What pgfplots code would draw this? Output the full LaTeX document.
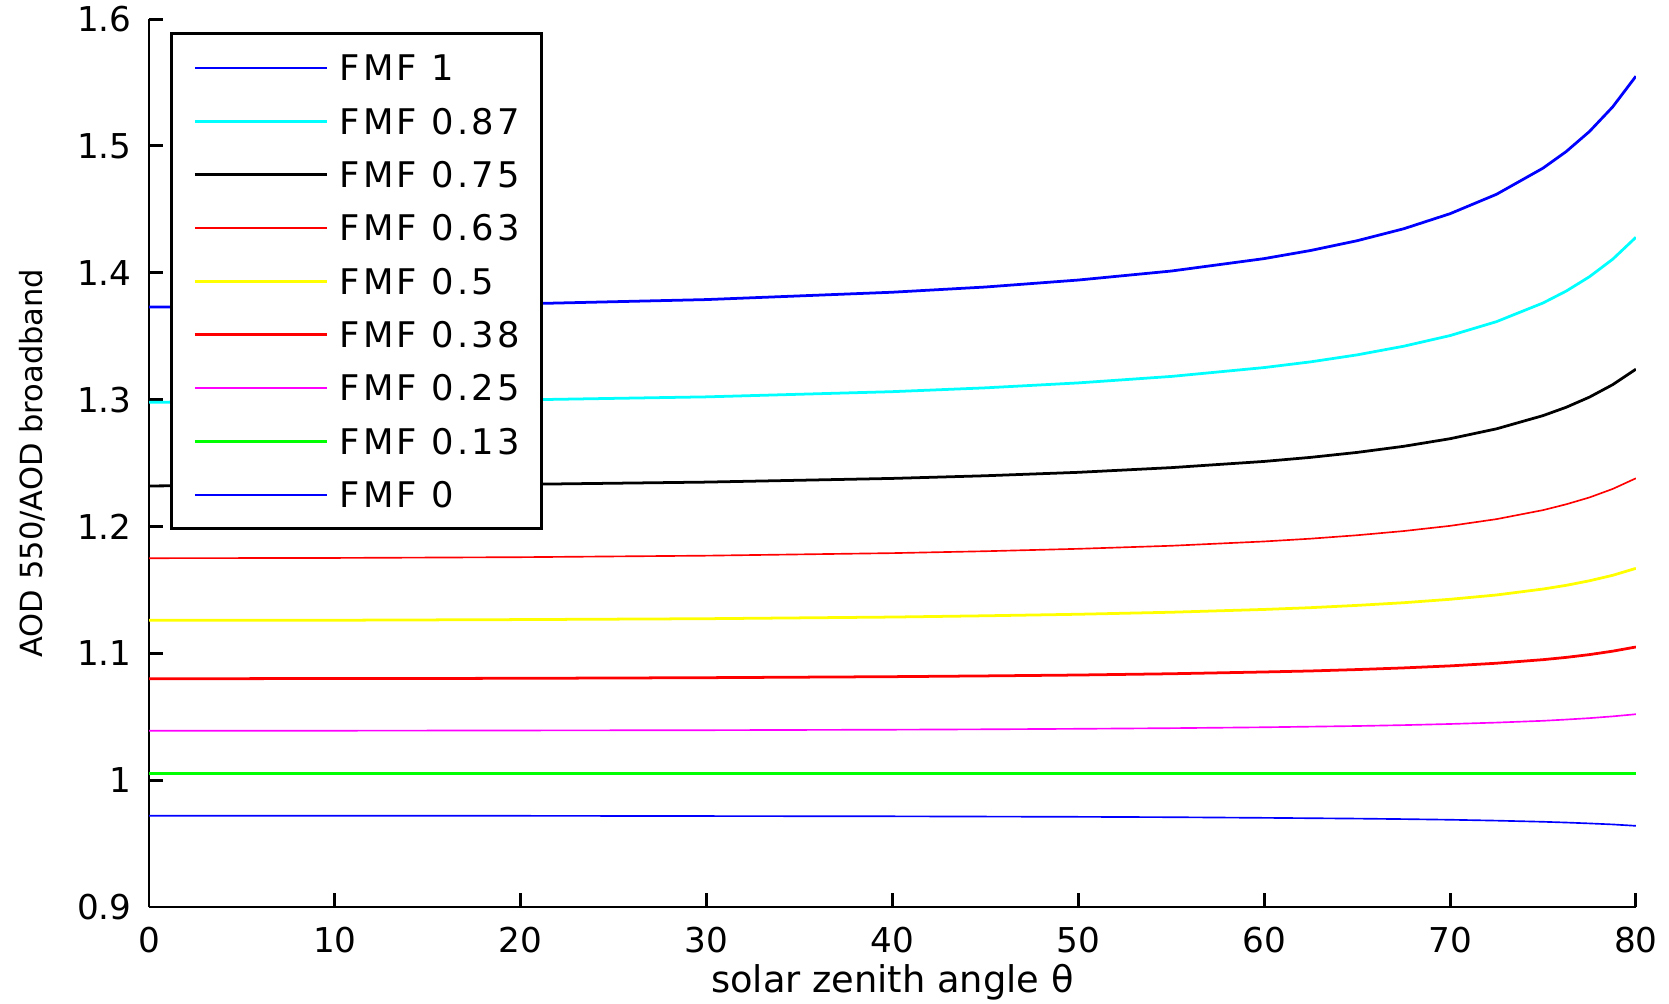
\documentclass[border=0pt]{standalone}
\usepackage{fontspec}
\setmainfont{DejaVu Sans}
\newfontfamily\legfont[LetterSpace=9]{DejaVu Sans}
\usepackage{pgfplots}
\usepackage{pgfplotstable}
\pgfplotsset{compat=1.18}

\pgfplotstableread{
theta  f1     f087   f075   f063   f05    f038   f025   f013   f0
0      1.3730 1.2980 1.2320 1.1750 1.1260 1.0800 1.0390 1.0050 0.9720
10     1.3736 1.2984 1.2323 1.1752 1.1261 1.0801 1.0390 1.0050 0.9720
20     1.3755 1.2998 1.2332 1.1758 1.1266 1.0803 1.0392 1.0050 0.9719
30     1.3789 1.3022 1.2350 1.1770 1.1273 1.0808 1.0394 1.0050 0.9717
40     1.3847 1.3063 1.2379 1.1790 1.1286 1.0816 1.0398 1.0050 0.9715
45     1.3888 1.3093 1.2400 1.1805 1.1296 1.0822 1.0401 1.0050 0.9713
50     1.3943 1.3132 1.2427 1.1824 1.1308 1.0829 1.0405 1.0050 0.9711
55     1.4014 1.3183 1.2464 1.1848 1.1324 1.0839 1.0410 1.0050 0.9708
60     1.4112 1.3253 1.2513 1.1882 1.1346 1.0853 1.0417 1.0050 0.9703
62.5   1.4176 1.3298 1.2545 1.1904 1.1360 1.0861 1.0422 1.0050 0.9700
65     1.4253 1.3353 1.2584 1.1931 1.1378 1.0872 1.0427 1.0050 0.9697
67.5   1.4347 1.3421 1.2632 1.1964 1.1399 1.0885 1.0434 1.0050 0.9693
70     1.4466 1.3505 1.2692 1.2005 1.1426 1.0901 1.0443 1.0050 0.9688
72.5   1.4619 1.3615 1.2770 1.2058 1.1460 1.0922 1.0454 1.0050 0.9681
75     1.4825 1.3762 1.2874 1.2129 1.1507 1.0950 1.0468 1.0050 0.9672
76.25  1.4956 1.3856 1.2940 1.2175 1.1536 1.0968 1.0478 1.0050 0.9666
77.5   1.5114 1.3969 1.3020 1.2229 1.1572 1.0990 1.0489 1.0050 0.9659
78.75  1.5308 1.4107 1.3118 1.2296 1.1615 1.1017 1.0503 1.0050 0.9651
80     1.5550 1.4280 1.3240 1.2380 1.1670 1.1050 1.0520 1.0050 0.9640
}\datatable

\definecolor{mblue}{RGB}{0,0,255}
\definecolor{mcyan}{RGB}{0,255,255}
\definecolor{mred}{RGB}{255,0,0}
\definecolor{myellow}{RGB}{255,255,0}
\definecolor{mmagenta}{RGB}{255,0,255}
\definecolor{mgreen}{RGB}{0,255,0}

\begin{document}
\begin{tikzpicture}
\begin{axis}[
  scale only axis,
  width=404.1pt, height=241.3pt,
  xmin=0, xmax=80, ymin=0.9, ymax=1.6,
  axis lines=left,
  axis line style={-, line width=0.8pt, black},
  tick align=inside,
  major tick length=3.8pt,
  tick style={black, line width=0.8pt},
  xtick={0,10,20,30,40,50,60,70,80},
  ytick={0.9,1,1.1,1.2,1.3,1.4,1.5,1.6},
  /pgf/number format/assume math mode=true,
  tick label style={font=\fontsize{9.3}{10}\selectfont},
  yticklabel style={xshift=-1.2pt},
  xticklabel style={yshift=-2pt},
  xlabel={solar zenith angle θ},
  ylabel={AOD 550/AOD broadband},
  xlabel style={at={(axis description cs:0.5,-0.085)}, anchor=center, font=\fontsize{10}{11}\selectfont},
  ylabel style={at={(axis description cs:-0.0787,0.5)}, anchor=center, font=\fontsize{8.3}{10}\selectfont},
  legend cell align=left,
  legend image code/.code={\draw[#1] (0pt,0pt) -- (36pt,0pt);},
  legend style={at={(0.0141,0.985)}, anchor=north west, draw=black, line width=0.8pt, fill=white,
    inner xsep=6pt, inner ysep=2pt, row sep=0pt, column sep=3pt,
    font=\legfont\fontsize{9.6}{11}\selectfont,
    nodes={inner sep=0pt, text height=7pt, text depth=0pt, minimum height=14.5pt}},
]
\addplot[mblue, line width=0.75pt] table[x=theta, y=f1] {\datatable};
\addlegendentry{FMF 1}
\addplot[mcyan, line width=0.75pt] table[x=theta, y=f087] {\datatable};
\addlegendentry{FMF 0.87}
\addplot[black, line width=0.75pt] table[x=theta, y=f075] {\datatable};
\addlegendentry{FMF 0.75}
\addplot[mred, line width=0.45pt] table[x=theta, y=f063] {\datatable};
\addlegendentry{FMF 0.63}
\addplot[myellow, line width=0.75pt] table[x=theta, y=f05] {\datatable};
\addlegendentry{FMF 0.5}
\addplot[mred, line width=0.75pt] table[x=theta, y=f038] {\datatable};
\addlegendentry{FMF 0.38}
\addplot[mmagenta, line width=0.45pt] table[x=theta, y=f025] {\datatable};
\addlegendentry{FMF 0.25}
\addplot[mgreen, line width=0.75pt] table[x=theta, y=f013] {\datatable};
\addlegendentry{FMF 0.13}
\addplot[mblue, line width=0.45pt] table[x=theta, y=f0] {\datatable};
\addlegendentry{FMF 0}
\coordinate (O) at (rel axis cs:0,0);
\coordinate (T) at (rel axis cs:1,1);
\end{axis}
\pgfresetboundingbox
\path ([xshift=-40.5pt,yshift=-26.1pt]O) rectangle ([xshift=9pt,yshift=5.2pt]T);
\end{tikzpicture}
\end{document}
